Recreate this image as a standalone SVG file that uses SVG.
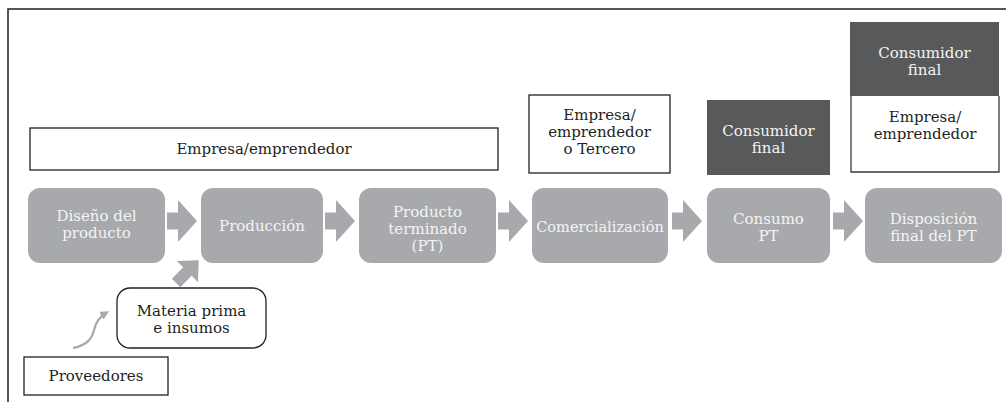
<svg xmlns="http://www.w3.org/2000/svg" width="1006" height="402" viewBox="0 0 1006 402">
<style>
text{font-family:"DejaVu Serif","Liberation Serif",serif;font-size:15px;text-anchor:middle}
.dk{fill:#231f20}
.wt{fill:#f4f4f5}
.step{fill:#a7a9ac}
.box{fill:#fff;stroke:#231f20;stroke-width:1.3}
.dbox{fill:#58595b}
.barr{fill:#a7a9ac}
</style>
<defs>
<polygon id="blk" points="0,-8.5 11,-8.5 11,-21 30,0 11,21 11,8.5 0,8.5"/>
<marker id="ah" viewBox="0 0 10 10" refX="6" refY="5" markerWidth="4" markerHeight="4" orient="auto">
<path d="M0,0 L10,5 L0,10 z" fill="#a7a9ac"/>
</marker>
</defs>
<g id="frame" fill="none" stroke="#231f20" stroke-width="1.5">
<path d="M8,402 V9 H1006"/>
</g>
<g id="connectors">
<use href="#blk" class="barr" x="167" y="221"/>
<use href="#blk" class="barr" x="325" y="221"/>
<use href="#blk" class="barr" x="498" y="221"/>
<use href="#blk" class="barr" x="672" y="221"/>
<use href="#blk" class="barr" x="833" y="221"/>
<polygon class="barr" transform="translate(186,273) rotate(-45)" points="-14,-6 2,-6 2,-15 18,0 2,15 2,6 -14,6"/>
<path d="M73,348 C88,345 92,338 94,330 C96,322 99,317 106,313" fill="none" stroke="#a7a9ac" stroke-width="2.2" marker-end="url(#ah)"/>
</g>
<g id="empresa-top">
<rect class="box" x="30" y="128" width="468" height="42"/>
<text class="dk" x="264" y="154">Empresa/emprendedor</text>
</g>
<g id="empresa-tercero">
<rect class="box" x="529" y="95" width="141" height="78" stroke-width="2"/>
<text class="dk" x="599.5" y="120">Empresa/</text>
<text class="dk" x="599.5" y="137">emprendedor</text>
<text class="dk" x="599.5" y="154">o Tercero</text>
</g>
<g id="consumidor-mid">
<rect class="dbox" x="707" y="100" width="123" height="75"/>
<text class="wt" x="768.5" y="136">Consumidor</text>
<text class="wt" x="768.5" y="153">final</text>
</g>
<g id="consumidor-right">
<rect class="dbox" x="850" y="22" width="149" height="74"/>
<text class="wt" x="924.5" y="58">Consumidor</text>
<text class="wt" x="924.5" y="75">final</text>
</g>
<g id="empresa-right">
<path d="M851,96 V172 H999 V96" fill="#fff" stroke="#3a3a3c" stroke-width="1.3"/>
<text class="dk" x="925" y="122">Empresa/</text>
<text class="dk" x="925" y="139">emprendedor</text>
</g>
<g id="diseno">
<rect class="step" x="28" y="188" width="137" height="75" rx="12"/>
<text class="wt" x="96.5" y="221">Diseño del</text>
<text class="wt" x="96.5" y="238">producto</text>
</g>
<g id="produccion">
<rect class="step" x="201" y="188" width="122" height="75" rx="12"/>
<text class="wt" x="262" y="231">Producción</text>
</g>
<g id="producto-terminado">
<rect class="step" x="359" y="188" width="137" height="75" rx="12"/>
<text class="wt" x="427.5" y="217">Producto</text>
<text class="wt" x="427.5" y="234">terminado</text>
<text class="wt" x="427.5" y="251">(PT)</text>
</g>
<g id="comercializacion">
<rect class="step" x="532" y="188" width="136" height="75" rx="12"/>
<text class="wt" x="600" y="232" style="font-size:14.6px">Comercialización</text>
</g>
<g id="consumo">
<rect class="step" x="707" y="188" width="123" height="75" rx="12"/>
<text class="wt" x="768.5" y="224">Consumo</text>
<text class="wt" x="768.5" y="241">PT</text>
</g>
<g id="disposicion">
<rect class="step" x="865" y="188" width="137" height="75" rx="12"/>
<text class="wt" x="933.5" y="224">Disposición</text>
<text class="wt" x="933.5" y="241">final del PT</text>
</g>
<g id="materia-prima">
<rect class="box" x="117" y="288" width="149" height="60" rx="13"/>
<text class="dk" x="191.5" y="316">Materia prima</text>
<text class="dk" x="191.5" y="333">e insumos</text>
</g>
<g id="proveedores">
<rect class="box" x="24" y="357" width="144" height="38"/>
<text class="dk" x="96" y="381">Proveedores</text>
</g>
</svg>
